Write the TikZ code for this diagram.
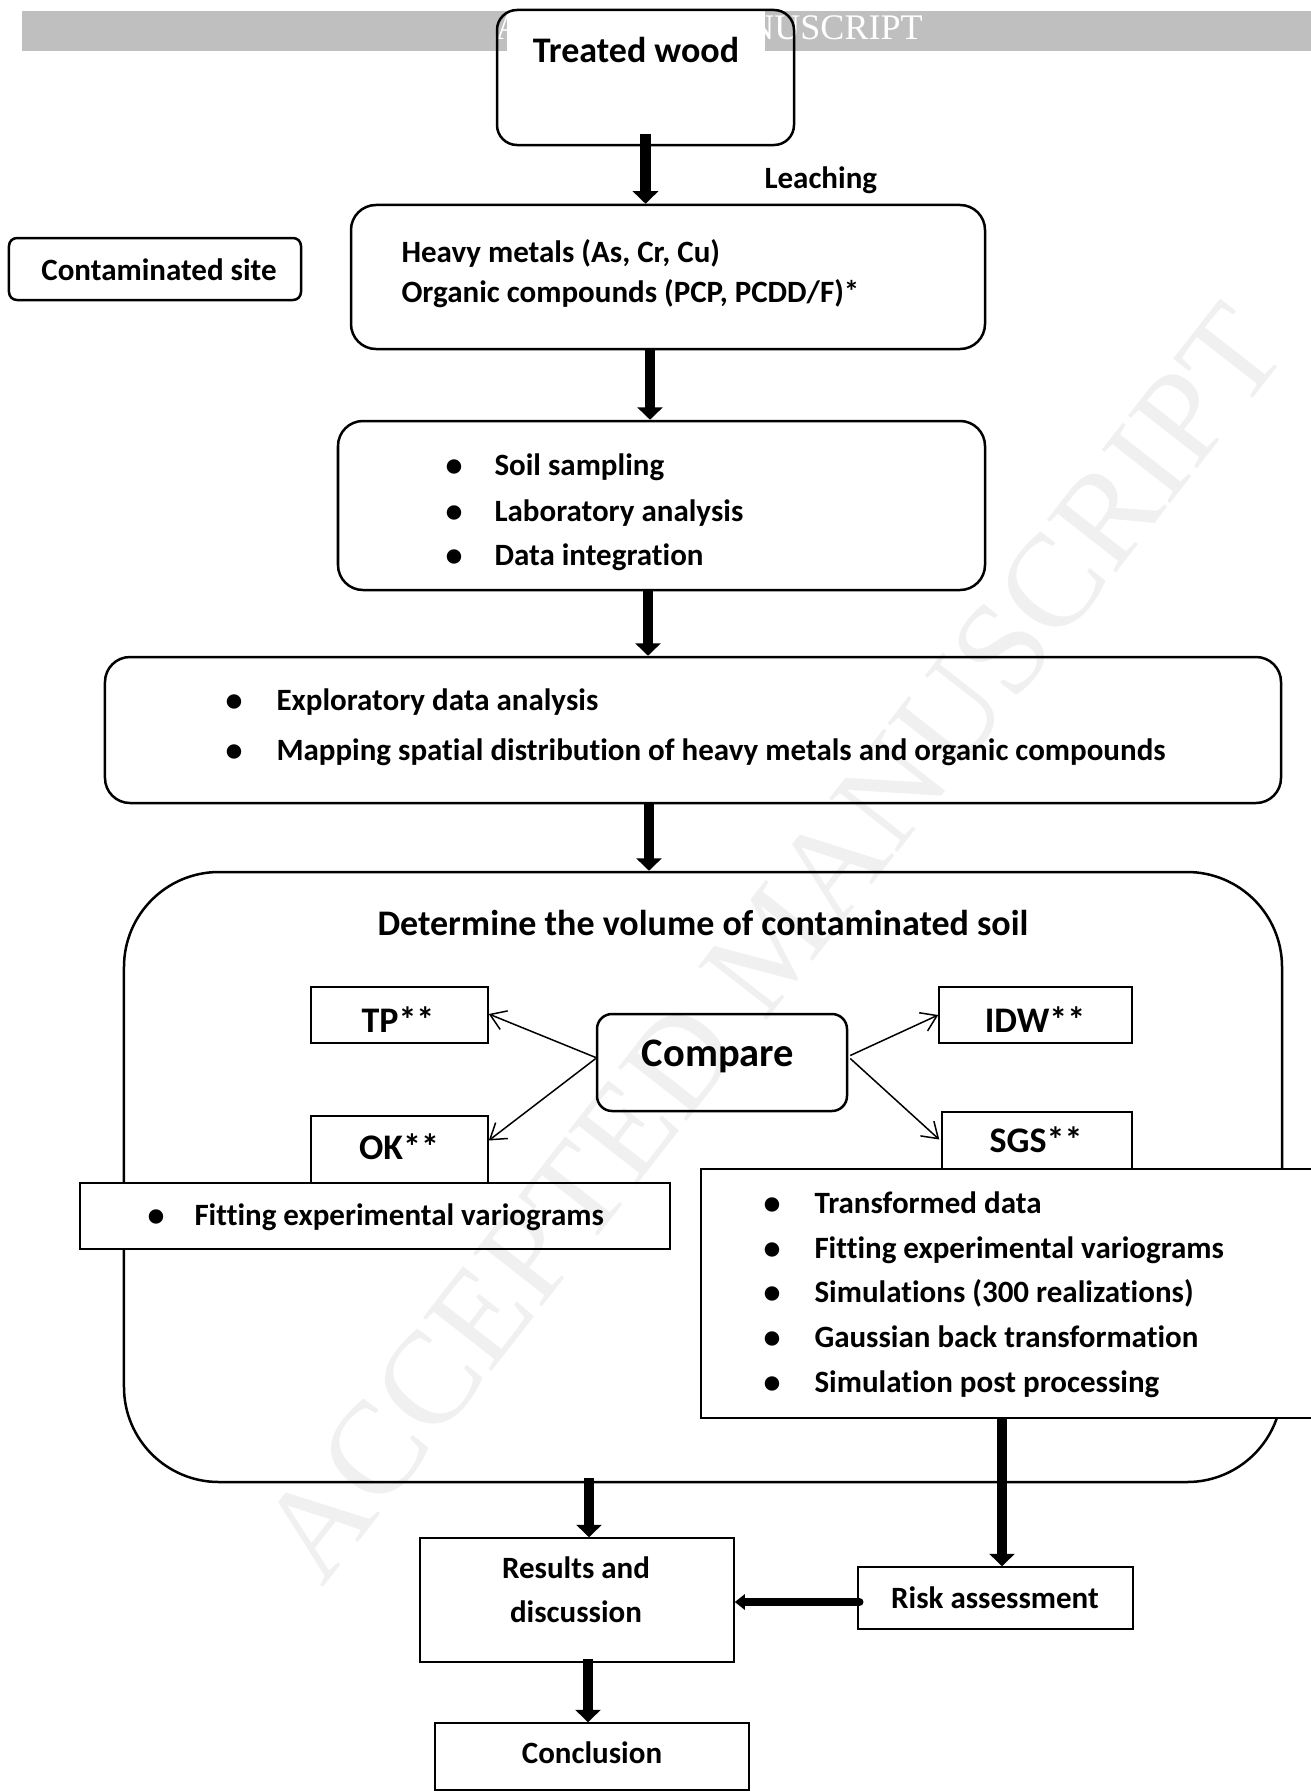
\documentclass[tikz,border=0pt]{standalone}
\usepackage{fontspec}
\setmainfont{Carlito}[Ligatures=NoCommon]
\newfontfamily\wmfont{Liberation Serif}
\usetikzlibrary{arrows.meta,calc}
\newcommand\bodyf{\fontsize{12.4}{14}\selectfont\bfseries}
\newcommand\bigf{\fontsize{14.4}{17}\selectfont\bfseries}
\newcommand\cmpf{\fontsize{16.2}{19}\selectfont\bfseries}
\newcommand\bulf{\fontsize{13.6}{15}\selectfont\bfseries}
\begin{document}
\begin{tikzpicture}[x=0.4pt,y=-0.4pt,
  rbox/.style={draw,line width=1pt,rounded corners=10pt,inner sep=0pt},
  sbox/.style={draw,line width=0.6pt,inner sep=0pt},
  txt/.style={inner sep=0pt,anchor=base,font=\bodyf},
  ltxt/.style={inner sep=0pt,anchor=base west,font=\bodyf},
  bul/.style={inner sep=0pt,anchor=base,font=\bulf},
  fatarrow/.style={line width=4.2pt,-{Triangle[width=10pt,length=5pt]}},
  slimarrow/.style={line width=0.6pt,-{Straight Barb[length=6pt,width=8pt]}},
]
\useasboundingbox (0,0) rectangle (1311,1792);
% banner
\fill[black!25] (22,11) rectangle (1311,51);
\node[inner sep=0pt,anchor=base,text=white,font=\wmfont\fontsize{14.4}{16}\selectfont] (ban) at (709,40) {ACCEPTED MANUSCRIPT};
\fill[white] (507,11) rectangle (765,51);

% boxes
\node[rbox,rounded corners=8pt,minimum width=118.8pt,minimum height=54pt] (tw) at (645.5,77.5) {};
\node[rbox,rounded corners=3.2pt,minimum width=116.8pt,minimum height=24.8pt] (cs) at (155,269) {};
\node[rbox,minimum width=253.6pt,minimum height=57.6pt] (hm) at (668,277) {};
\node[rbox,minimum width=258.8pt,minimum height=67.6pt] (ss) at (661.5,505.5) {};
\node[rbox,minimum width=470.4pt,minimum height=58.4pt] (ex) at (693,730) {};
\node[rbox,rounded corners=38pt,minimum width=463.2pt,minimum height=244pt] (big) at (703,1177) {};
\node[sbox,minimum width=70.8pt,minimum height=22.4pt] (tp) at (399.5,1015) {};
\node[sbox,minimum width=77.2pt,minimum height=22.4pt] (idw) at (1035.5,1015) {};
\node[rbox,rounded corners=6pt,minimum width=100pt,minimum height=38.8pt] (cmp) at (722,1062.5) {};
\node[sbox,minimum width=70.8pt,minimum height=26.8pt] (ok) at (399.5,1149.5) {};
\node[sbox,minimum width=76pt,minimum height=25.2pt] (sgs) at (1037,1143.5) {};
\node[sbox,fill=white,minimum width=236pt,minimum height=26.4pt] (fit) at (375,1216) {};
\node[sbox,fill=white,minimum width=251.6pt,minimum height=99.6pt] (lst) at (1015.5,1293.5) {};
\node[sbox,minimum width=110pt,minimum height=24.8pt] (risk) at (995.5,1598) {};
\node[sbox,minimum width=125.6pt,minimum height=49.6pt] (res) at (577,1600) {};
\node[sbox,minimum width=125.6pt,minimum height=26.8pt] (con) at (592,1756.5) {};

% texts
\node[txt,font=\bigf] (twt) at (636,63) {Treated wood};
\begin{scope}
\clip (700,150) rectangle (950,193);
\node[ltxt] (leach) at (764,189) {Leaching};
\end{scope}
\node[txt] (cst) at (159,280) {Contaminated site};
\node[ltxt] (hm1) at (401,262) {Heavy metals (As, Cr, Cu)};
\node[ltxt] (hm2) at (401,302) {Organic compounds (PCP, PCDD/F)*};
\node[bul] (ssb1) at (454,476) {•};
\node[bul] (ssb2) at (454,522) {•};
\node[bul] (ssb3) at (454,566) {•};
\node[ltxt] (ss1) at (494,475) {Soil sampling};
\node[ltxt] (ss2) at (494,521) {Laboratory analysis};
\node[ltxt] (ss3) at (494,565) {Data integration};
\node[bul] (exb1) at (234,711) {•};
\node[bul] (exb2) at (234,761) {•};
\node[ltxt] (ex1) at (276,710) {Exploratory data analysis};
\node[ltxt] (ex2) at (276,760) {Mapping spatial distribution of heavy metals and organic compounds};
\node[txt,font=\bigf] (title) at (703,935) {Determine the volume of contaminated soil};
\node[txt,font=\bigf] (tpt) at (398,1032) {TP**};
\node[txt,font=\bigf] (idwt) at (1035,1032) {IDW**};
\node[txt,font=\cmpf] (cmpt) at (718,1066) {Compare};
\node[txt,font=\bigf] (okt) at (399,1159) {OK**};
\node[txt,font=\bigf] (sgst) at (1036,1152) {SGS**};
\node[bul] (fitb) at (156,1226) {•};
\node[ltxt] (fitt) at (194,1225) {Fitting experimental variograms};
\node[bul] (lb1) at (772,1214) {•};
\node[bul] (lb2) at (772,1259) {•};
\node[bul] (lb3) at (772,1303) {•};
\node[bul] (lb4) at (772,1348) {•};
\node[bul] (lb5) at (772,1393) {•};
\node[ltxt] (l1) at (814,1213) {Transformed data};
\node[ltxt] (l2) at (814,1258) {Fitting experimental variograms};
\node[ltxt] (l3) at (814,1302) {Simulations (300 realizations)};
\node[ltxt] (l4) at (814,1347) {Gaussian back transformation};
\node[ltxt] (l5) at (814,1392) {Simulation post processing};
\node[txt] (res1) at (576,1578) {Results and};
\node[txt] (res2) at (576,1622) {discussion};
\node[txt] (riskt) at (995,1608) {Risk assessment};
\node[txt] (cont) at (592,1763) {Conclusion};

% thick arrows
\coordinate (a1s) at ($(tw.south)+(0,-12)$);
\draw[fatarrow] (a1s) -- (a1s |- hm.north);
\coordinate (a2s) at ($(hm.south)+(-18,-2)$);
\draw[fatarrow] (a2s) -- (a2s |- ss.north);
\coordinate (a3s) at ($(ss.south)+(-13.5,-2)$);
\draw[fatarrow] (a3s) -- (a3s |- ex.north);
\coordinate (a4s) at ($(ex.south)+(-44,-2)$);
\draw[fatarrow] (a4s) -- (a4s |- big.north);
\coordinate (a5s) at ($(big.south)+(-114,-5)$);
\draw[fatarrow] (a5s) -- (a5s |- res.north);
\coordinate (a6s) at ($(lst.south)+(-13.5,0)$);
\draw[fatarrow] (a6s) -- (a6s |- risk.north);
\coordinate (a7s) at ($(risk.west)+(2,4)$);
\draw[line width=3.4pt,line cap=round,-{Triangle[width=6pt,length=4pt]}] (a7s) -- (a7s -| res.east);
\coordinate (a8s) at ($(res.south)+(11,-4)$);
\draw[fatarrow] (a8s) -- (a8s |- con.north);

% compare arrows
\draw[slimarrow] ($(cmp.west)+(0,-5)$) -- ($(tp.east)+(0,-1)$);
\draw[slimarrow] ($(cmp.west)+(0,-4)$) -- ($(ok.east)+(0,-9)$);
\draw[slimarrow] ($(cmp.east)+(2,-7)$) -- (idw.west);
\draw[slimarrow] ($(cmp.east)+(2,-4)$) -- ($(sgs.west)+(-2,-4)$);

% watermark
\node[rotate=52,inner sep=0pt,text=black,text opacity=0.06,font=\wmfont\fontsize{53}{58}\selectfont] (wm) at (772,943) {ACCEPTED MANUSCRIPT};
\end{tikzpicture}
\end{document}
